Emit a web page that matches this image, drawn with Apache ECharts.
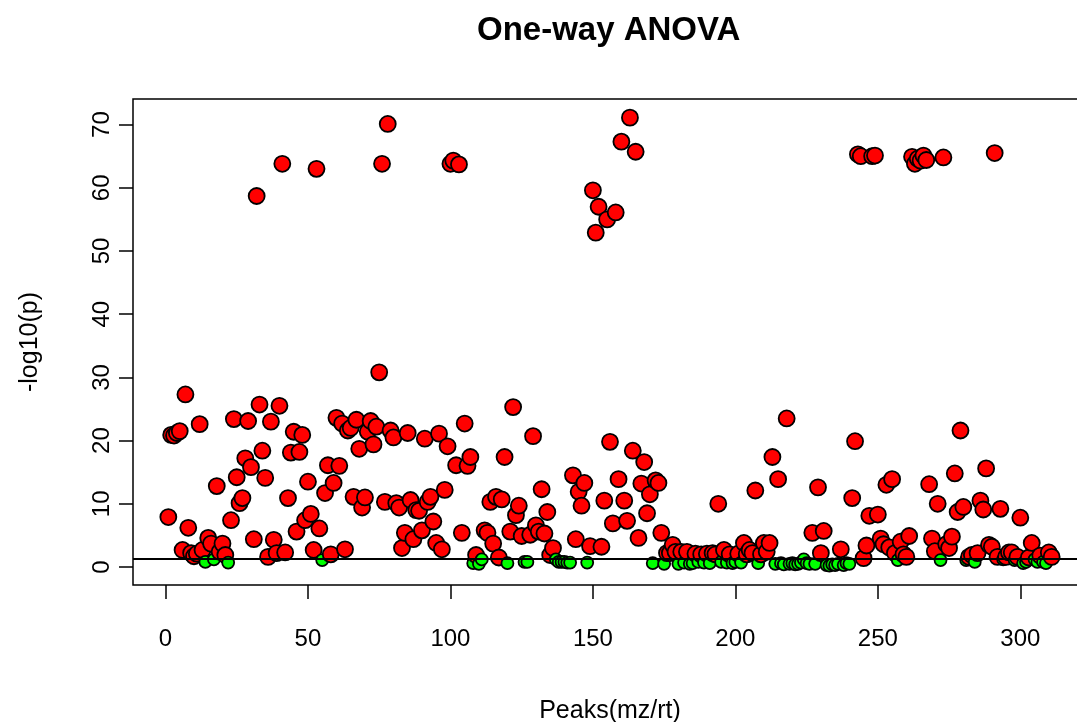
<!DOCTYPE html>
<html>
<head>
<meta charset="utf-8">
<script src="https://cdn.jsdelivr.net/npm/echarts@6/dist/echarts.min.js"></script>
<style>html,body{margin:0;padding:0;background:#fff}#c{width:1077px;height:722px}</style>
</head>
<body>
<div id="c"></div>
<script>
// -log10(p) for each peak, in peak order 1..311
const pValues = [
 7.9, 20.9, 20.8, 21.2, 21.5, 2.7, 27.3, 6.2, 2.2, 1.7,
 2.1, 22.6, 2.7, 0.8, 4.6, 3.7, 1.2, 12.8, 2.4, 3.7,
 1.9, 0.7, 7.4, 23.4, 14.2, 10.1, 10.9, 17.2, 23.1, 15.8,
 4.4, 58.7, 25.7, 18.4, 14.1, 1.6, 23.0, 4.3, 2.2, 25.5,
 63.8, 2.3, 10.9, 18.1, 21.4, 5.6, 18.2, 20.9, 7.4, 13.5,
 8.4, 2.7, 63.0, 6.1, 1.1, 11.7, 16.1, 2.0, 13.3, 23.6,
 16.0, 22.7, 2.8, 21.6, 22.0, 11.1, 23.3, 18.7, 9.4, 11.0,
 21.4, 23.1, 19.4, 22.2, 30.8, 63.8, 10.3, 70.1, 21.6, 20.5,
 10.1, 9.4, 3.0, 5.4, 21.2, 10.6, 4.4, 9.0, 8.9, 5.8,
 20.3, 10.3, 11.1, 7.2, 3.8, 21.1, 2.8, 12.2, 19.1, 63.8,
 64.3, 16.1, 63.7, 5.4, 22.7, 16.0, 17.4, 0.6, 1.9, 0.5,
 1.2, 5.8, 5.4, 10.3, 3.7, 11.1, 1.5, 10.7, 17.4, 0.6,
 5.6, 25.3, 8.2, 9.7, 4.9, 0.8, 0.8, 5.1, 20.7, 6.6,
 5.6, 12.3, 5.3, 8.7, 1.9, 3.0, 1.2, 0.8, 0.8, 0.8,
 0.7, 0.7, 14.5, 4.4, 11.9, 9.7, 13.3, 0.7, 3.3, 59.6,
 52.9, 57.0, 3.2, 10.5, 55.0, 19.8, 6.9, 56.1, 13.9, 67.3,
 10.5, 7.3, 71.1, 18.4, 65.7, 4.6, 13.2, 16.6, 8.5, 11.5,
 0.6, 13.7, 13.3, 5.4, 0.5, 2.2, 2.2, 3.5, 2.4, 0.5,
 2.4, 0.7, 2.4, 0.5, 0.6, 2.1, 0.8, 2.0, 0.7, 2.1,
 0.6, 2.2, 2.0, 10.0, 0.8, 2.7, 0.7, 2.0, 0.6, 0.8,
 2.1, 0.7, 3.8, 2.0, 2.7, 2.2, 12.1, 0.6, 2.0, 3.8,
 2.4, 3.8, 17.4, 0.5, 13.9, 0.6, 0.4, 23.5, 0.5, 0.6,
 0.4, 0.5, 0.7, 1.2, 0.6, 0.5, 5.4, 0.5, 12.6, 2.2,
 5.7, 0.3, 0.2, 0.4, 0.3, 0.5, 2.8, 0.3, 0.6, 0.5,
 10.9, 19.9, 65.3, 65.0, 1.4, 3.4, 8.1, 65.0, 65.1, 8.3,
 4.5, 3.6, 13.0, 3.1, 13.9, 2.2, 1.1, 4.0, 2.0, 1.6,
 4.9, 64.9, 63.8, 64.6, 64.3, 65.1, 64.4, 13.1, 4.5, 2.5,
 10.0, 1.1, 64.8, 3.6, 3.0, 4.8, 14.8, 8.7, 21.6, 9.5,
 1.1, 1.6, 1.9, 0.8, 2.2, 10.5, 9.1, 15.6, 3.5, 3.2,
 65.5, 1.6, 9.2, 1.2, 1.6, 2.3, 2.3, 1.1, 1.6, 7.8,
 0.6, 0.8, 1.5, 3.8, 1.2, 0.8, 1.8, 0.8, 0.6, 2.3,
 1.6
];
const threshold = -Math.log10(0.05);
const xTicks = [0, 50, 100, 150, 200, 250, 300];
const yTicks = [0, 10, 20, 30, 40, 50, 60, 70];
const titleText = 'One-way ANOVA';
const xName = 'Peaks(mz/rt)';
const yName = '-log10(p)';

const points = pValues.map((v, i) => [i + 1, v]);
const FONT = '"Liberation Sans", Arial, Helvetica, sans-serif';

const chart = echarts.init(document.getElementById('c'), null, {renderer: 'canvas'});
chart.setOption({
  animation: false,
  backgroundColor: '#ffffff',
  graphic: [{
    type: 'text', left: 611 - 134, top: 14,
    style: {text: titleText, font: 'bold 33px ' + FONT, fill: '#000'}
  }],
  grid: {left: 133, top: 99, right: -10, bottom: 137, show: true, borderColor: '#000', borderWidth: 1.5,
         backgroundColor: 'transparent', containLabel: false, outerBoundsMode: 'none'},
  xAxis: {
    type: 'value', min: -11.4, max: 323.4,
    name: xName, nameLocation: 'middle', nameGap: 114,
    nameTextStyle: {fontFamily: FONT, fontSize: 25, color: '#000'},
    axisLine: {show: false, onZero: false},
    splitLine: {show: false},
    axisTick: {show: true, inside: false, length: 14, customValues: xTicks, lineStyle: {color: '#000', width: 1.5}},
    axisLabel: {customValues: xTicks, margin: 42, fontFamily: FONT, fontSize: 24, color: '#000'}
  },
  yAxis: {
    type: 'value', min: -2.85, max: 74.05,
    name: yName, nameLocation: 'middle', nameGap: 90, nameRotate: 90,
    nameTextStyle: {fontFamily: FONT, fontSize: 25, color: '#000'},
    axisLine: {show: false, onZero: false},
    splitLine: {show: false},
    axisTick: {show: true, inside: false, length: 14, customValues: yTicks, lineStyle: {color: '#000', width: 1.5}},
    axisLabel: {customValues: yTicks, rotate: 90, margin: 19, fontFamily: FONT, fontSize: 24, color: '#000'}
  },
  series: [{
    type: 'scatter',
    data: points,
    symbol: 'circle',
    symbolSize: (val) => val[1] > threshold ? 16 : 12,
    itemStyle: {
      color: (p) => p.value[1] > threshold ? '#ff0000' : '#00ff00',
      borderColor: '#000', borderWidth: 1.8, opacity: 1
    },
    markLine: {
      silent: true, symbol: 'none', label: {show: false},
      lineStyle: {color: '#000', width: 1.8, type: 'solid'},
      data: [{yAxis: threshold}]
    }
  }]
});
</script>
</body>
</html>
